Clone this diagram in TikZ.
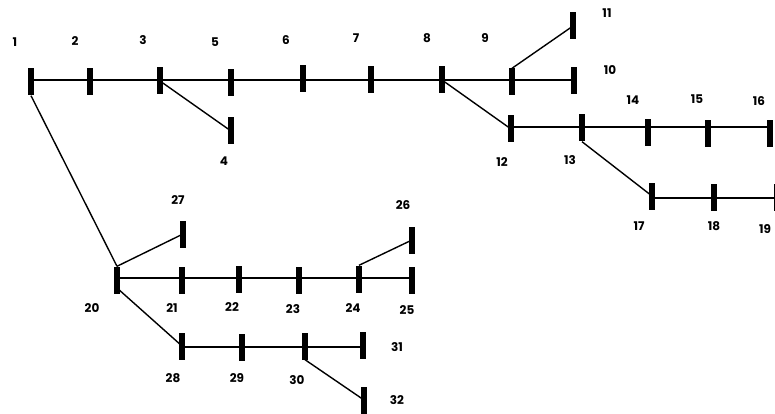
\documentclass[tikz,border=0pt]{standalone}
\usepackage{fontspec}
\setmainfont{Poppins}
\begin{document}
\begin{tikzpicture}[x=1pt,y=-1pt,
  bus/.style={fill=black,draw=none,rectangle,inner sep=0pt,minimum width=5.5pt,minimum height=27pt},
  lbl/.style={font=\bfseries\fontsize{12}{14}\selectfont,inner sep=0pt},
  wire/.style={line width=1.4pt}]
\useasboundingbox (0,0) rectangle (775,414);
% buses
\node[bus] (n1) at (31,82) {};
\node[bus] (n2) at (90,82) {};
\node[bus] (n3) at (160,81) {};
\node[bus] (n5) at (231,83) {};
\node[bus] (n6) at (303,79) {};
\node[bus] (n7) at (371,80) {};
\node[bus] (n8) at (442,80) {};
\node[bus] (n9) at (512,82) {};
\node[bus] (n10) at (574,81) {};
\node[bus] (n11) at (573,26) {};
\node[bus] (n4) at (231,131) {};
\node[bus] (n12) at (511,129) {};
\node[bus] (n13) at (582,128) {};
\node[bus] (n14) at (648,133) {};
\node[bus] (n15) at (708,134) {};
\node[bus] (n16) at (770,134) {};
\node[bus] (n17) at (652,196) {};
\node[bus] (n18) at (714,197) {};
\node[bus] (n19) at (777,197) {};
\node[bus] (n20) at (117,280) {};
\node[bus] (n21) at (182,280) {};
\node[bus] (n22) at (239,279) {};
\node[bus] (n23) at (299,280) {};
\node[bus] (n24) at (359,279) {};
\node[bus] (n25) at (412,280) {};
\node[bus] (n26) at (412,240) {};
\node[bus] (n27) at (183,234) {};
\node[bus] (n28) at (182,346) {};
\node[bus] (n29) at (242,347) {};
\node[bus] (n30) at (305,346) {};
\node[bus] (n31) at (363,345) {};
\node[bus] (n32) at (364,400) {};
% wires
\draw[wire] (n1.center |- 0,80) -- (n10.center |- 0,80);
\draw[wire] (n12.center |- 0,127) -- (n16.center |- 0,127);
\draw[wire] (n17.center |- 0,198) -- (n19.center |- 0,198);
\draw[wire] (n20.center |- 0,278) -- (n25.center |- 0,278);
\draw[wire] (n28.center |- 0,347) -- (n31.center |- 0,347);
\draw[wire] (n3.center) -- (n4.center);
\draw[wire] (n9.north) -- (n11.center);
\draw[wire] (n8.center) -- (n12.center);
\draw[wire] (n13.south) -- (n17.center);
\draw[wire] (n1.south) -- (n20.north);
\draw[wire] (n20.north) -- (n27.center);
\draw[wire] (n24.north) -- (n26.center);
\draw[wire] ([yshift=-8pt]n20.center) -- (n28.center);
\draw[wire] (n30.south) -- (n32.center);
% labels
\node[lbl] (t1) at (15,42) {1};
\node[lbl] (t2) at (75,41) {2};
\node[lbl] (t3) at (143,40) {3};
\node[lbl] (t5) at (215,42) {5};
\node[lbl] (t6) at (286,40) {6};
\node[lbl] (t7) at (356,38) {7};
\node[lbl] (t8) at (427,38) {8};
\node[lbl] (t9) at (485,38) {9};
\node[lbl] (t10) at (610,70) {10};
\node[lbl] (t11) at (607,13) {11};
\node[lbl] (t4) at (224,161) {4};
\node[lbl] (t12) at (502,162) {12};
\node[lbl] (t13) at (570,160) {13};
\node[lbl] (t14) at (633,100) {14};
\node[lbl] (t15) at (697,99) {15};
\node[lbl] (t16) at (759,101) {16};
\node[lbl] (t17) at (639,226) {17};
\node[lbl] (t18) at (714,226) {18};
\node[lbl] (t19) at (765,229) {19};
\node[lbl] (t20) at (92,308) {20};
\node[lbl] (t21) at (172,308) {21};
\node[lbl] (t22) at (232,307) {22};
\node[lbl] (t23) at (293,309) {23};
\node[lbl] (t24) at (353,308) {24};
\node[lbl] (t25) at (407,310) {25};
\node[lbl] (t26) at (403,205) {26};
\node[lbl] (t27) at (178,200) {27};
\node[lbl] (t28) at (173,378) {28};
\node[lbl] (t29) at (237,378) {29};
\node[lbl] (t30) at (297,380) {30};
\node[lbl] (t31) at (397,347) {31};
\node[lbl] (t32) at (397,400) {32};
\end{tikzpicture}
\end{document}
